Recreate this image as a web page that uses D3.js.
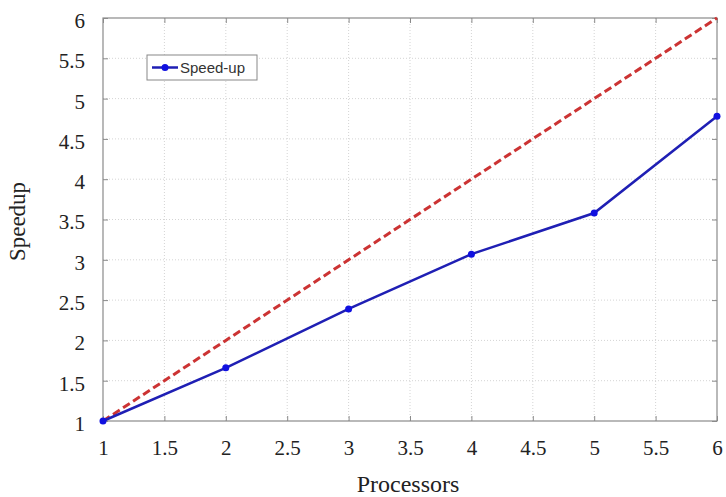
<!DOCTYPE html>
<html>
<head>
<meta charset="utf-8">
<script src="https://cdn.jsdelivr.net/npm/d3@7"></script>
<style>
  body { margin: 0; background: #fff; }
</style>
</head>
<body>
<div id="chart"></div>
<script>
// data
var processors = [1, 2, 3, 4, 5, 6];
var speedup = [1, 1.66, 2.39, 3.07, 3.58, 4.78];
var ideal = [1, 2, 3, 4, 5, 6];
var xTicks = [1, 1.5, 2, 2.5, 3, 3.5, 4, 4.5, 5, 5.5, 6];
var yTicks = [1, 1.5, 2, 2.5, 3, 3.5, 4, 4.5, 5, 5.5, 6];

var width = 726, height = 497;
var margin = {top: 18, right: 9, bottom: 76, left: 103};
var innerW = width - margin.left - margin.right;
var innerH = height - margin.top - margin.bottom;

var svg = d3.select("#chart").append("svg")
    .attr("width", width)
    .attr("height", height);

var g = svg.append("g")
    .attr("transform", "translate(" + margin.left + "," + margin.top + ")");

var x = d3.scaleLinear().domain([1, 6]).range([0, innerW]);
var y = d3.scaleLinear().domain([1, 6]).range([innerH, 0]);

// grid
g.append("g").selectAll("line")
    .data(xTicks.slice(1, -1))
    .enter().append("line")
    .attr("x1", d => x(d)).attr("x2", d => x(d))
    .attr("y1", 0).attr("y2", innerH)
    .style("stroke", "#d4d4d4").style("stroke-width", 1)
    .style("stroke-dasharray", "1,2");

g.append("g").selectAll("line")
    .data(yTicks.slice(1, -1))
    .enter().append("line")
    .attr("x1", 0).attr("x2", innerW)
    .attr("y1", d => y(d)).attr("y2", d => y(d))
    .style("stroke", "#d4d4d4").style("stroke-width", 1)
    .style("stroke-dasharray", "1,2");

// box
g.append("rect")
    .attr("width", innerW).attr("height", innerH)
    .attr("fill", "none").style("stroke", "#8a8a8a").style("stroke-width", 1.2);

// axes
var xAxis = g.append("g")
    .attr("transform", "translate(0," + innerH + ")")
    .call(d3.axisBottom(x).tickValues(xTicks).tickSizeInner(-5).tickSizeOuter(0).tickPadding(19).tickFormat(d3.format("")));
var xTop = g.append("g")
    .call(d3.axisTop(x).tickValues(xTicks).tickSizeInner(-5).tickSizeOuter(0).tickFormat(""));
var yAxis = g.append("g")
    .call(d3.axisLeft(y).tickValues(yTicks).tickSizeInner(-5).tickSizeOuter(0).tickPadding(18).tickFormat(d3.format("")));
var yRight = g.append("g")
    .attr("transform", "translate(" + innerW + ",0)")
    .call(d3.axisRight(y).tickValues(yTicks).tickSizeInner(-5).tickSizeOuter(0).tickFormat(""));

[xAxis, xTop, yAxis, yRight].forEach(function(a) {
    a.select(".domain").remove();
    a.selectAll(".tick line").style("stroke", "#8a8a8a");
    a.selectAll("text")
        .style("font-family", "'Liberation Serif', 'Times New Roman', serif")
        .style("font-size", "21px")
        .style("fill", "#222");
});
yAxis.selectAll("text").attr("dy", "0.45em");

// ideal line
var line = d3.line()
    .x((d, i) => x(processors[i]))
    .y(d => y(d));

g.append("path")
    .datum(ideal)
    .attr("d", line)
    .attr("fill", "none")
    .style("stroke", "#cc3333")
    .style("stroke-width", 3)
    .style("stroke-dasharray", "8,4");

// speedup line
g.append("path")
    .datum(speedup)
    .attr("d", line)
    .attr("fill", "none")
    .style("stroke", "#1f1fb4")
    .style("stroke-width", 2.5);

g.selectAll("circle.pt")
    .data(speedup)
    .enter().append("circle")
    .attr("class", "pt")
    .attr("cx", (d, i) => x(processors[i]))
    .attr("cy", d => y(d))
    .attr("r", 3.5)
    .attr("fill", "#1010e0");

// legend
var legend = g.append("g").attr("transform", "translate(44,37)");
legend.append("rect")
    .attr("width", 110).attr("height", 25)
    .attr("fill", "#fff").style("stroke", "#888").style("stroke-width", 1);
legend.append("line")
    .attr("x1", 5).attr("x2", 31).attr("y1", 12.5).attr("y2", 12.5)
    .style("stroke", "#1f1fb4").style("stroke-width", 2.5);
legend.append("circle")
    .attr("cx", 18).attr("cy", 12.5).attr("r", 3.5).attr("fill", "#1010e0");
legend.append("text")
    .attr("x", 33).attr("y", 18)
    .text("Speed-up")
    .style("font-family", "'Liberation Sans', Arial, sans-serif")
    .style("font-size", "15px")
    .style("fill", "#333");

// axis titles
svg.append("text")
    .attr("x", margin.left + innerW / 2 - 2)
    .attr("y", 492)
    .attr("text-anchor", "middle")
    .text("Processors")
    .style("font-family", "'Liberation Serif', 'Times New Roman', serif")
    .style("font-size", "24px")
    .style("fill", "#222");

svg.append("text")
    .attr("transform", "translate(25," + (margin.top + innerH / 2 + 2) + ") rotate(-90)")
    .attr("text-anchor", "middle")
    .text("Speedup")
    .style("font-family", "'Liberation Serif', 'Times New Roman', serif")
    .style("font-size", "23px")
    .style("fill", "#222");
</script>
</body>
</html>
